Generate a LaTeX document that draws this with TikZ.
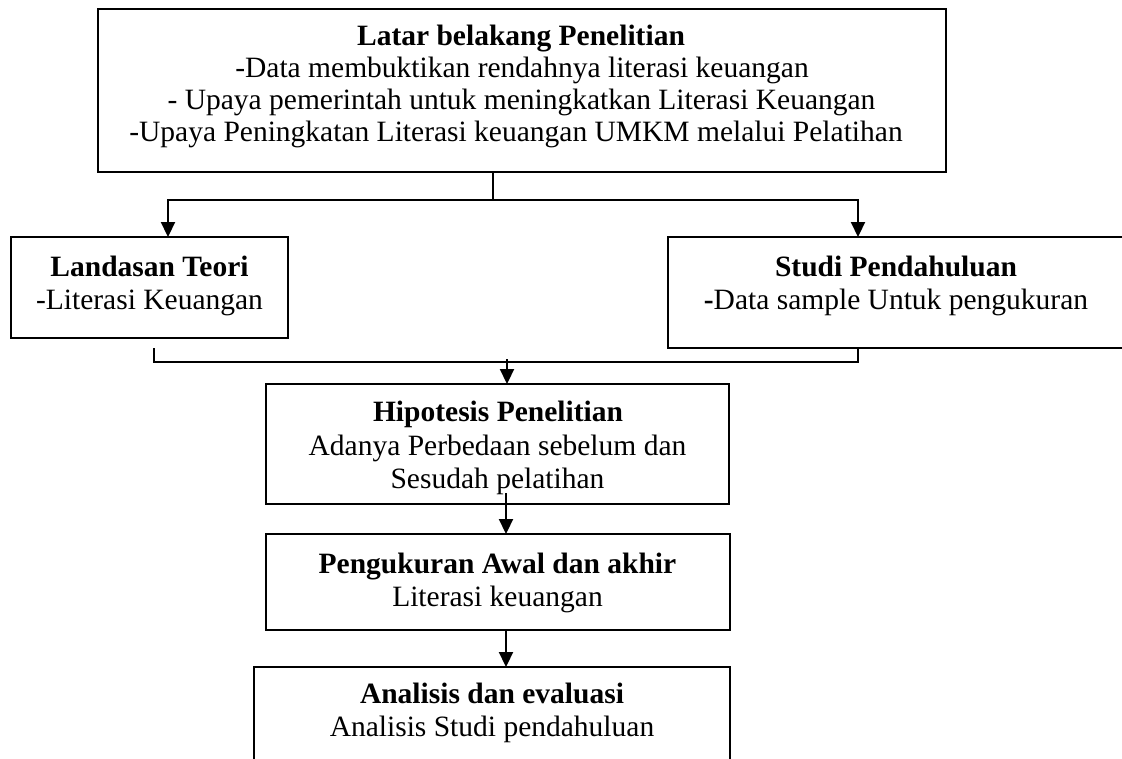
\documentclass[tikz,border=0pt]{standalone}
\usepackage{fontspec}
\setmainfont{Liberation Serif}
\usetikzlibrary{arrows.meta}
\begin{document}
\begin{tikzpicture}[x=1pt,y=-1pt,
  box/.style={draw,line width=2.2pt,inner sep=0pt,outer sep=0pt,rectangle},
  txt/.style={anchor=base,inner sep=0pt,font=\fontsize{29.5}{33}\selectfont},
  conn/.style={line width=2.2pt},
  arr/.style={line width=2.2pt,-{Triangle[length=15pt,width=14pt]}}]
\useasboundingbox (0,0) rectangle (1122,758);
\clip (0,0) rectangle (1122,758);
\fill[white] (0,0) rectangle (1122,758);
% boxes
\node[box,minimum width=848pt,minimum height=163pt] (top) at (522,90.5) {};
\node[box,minimum width=277pt,minimum height=101pt] (left) at (149.5,287.5) {};
\node[box,minimum width=456pt,minimum height=111pt] (right) at (896,292.5) {};
\node[box,minimum width=463pt,minimum height=120pt] (hip) at (497.5,444) {};
\node[box,minimum width=464pt,minimum height=96pt] (peng) at (498,582) {};
\node[box,minimum width=476pt,minimum height=110pt] (anal) at (492,722) {};
% texts
\node[txt] (t1) at (521,45) {\bfseries Latar belakang Penelitian};
\node[txt] (t2) at (522,77) {-Data membuktikan rendahnya literasi keuangan};
\node[txt] (t3) at (521.5,109) {- Upaya pemerintah untuk meningkatkan Literasi Keuangan};
\node[txt] (t4) at (516,141) {-Upaya Peningkatan Literasi keuangan UMKM melalui Pelatihan};
\node[txt] (l1) at (149.5,276) {\bfseries Landasan Teori};
\node[txt] (l2) at (149.5,309) {-Literasi Keuangan};
\node[txt] (r1) at (896,276) {\bfseries Studi Pendahuluan};
\node[txt] (r2) at (896,309) {{\bfseries -}Data sample Untuk pengukuran};
\node[txt] (h1) at (498,421) {\bfseries Hipotesis Penelitian};
\node[txt] (h2) at (497.5,455) {Adanya Perbedaan sebelum dan};
\node[txt] (h3) at (497.5,488) {Sesudah pelatihan};
\node[txt] (p1) at (497.5,573) {\bfseries Pengukuran Awal dan akhir};
\node[txt] (p2) at (497.5,606) {Literasi keuangan};
\node[txt] (a1) at (492,703) {\bfseries Analisis dan evaluasi};
\node[txt] (a2) at (492,736) {Analisis Studi pendahuluan};
% connectors
\coordinate (j0) at (493,200);
\coordinate (la) at (168,237);
\coordinate (ra) at (858,237);
\draw[conn] (top.south -| j0) -- (j0);
\draw[arr] (j0) -| (la);
\draw[arr] (j0) -| (ra);
\coordinate (lt) at (154,348);
\coordinate (lb) at (154,362);
\draw[conn] (lt) -- (lb) -- (lb -| ra) -- (right.south -| ra);
\coordinate (ha) at (507,359);
\draw[arr] (ha) -- (hip.north -| ha);
\coordinate (pa) at (506,493);
\draw[arr] (pa) -- (peng.north -| pa);
\draw[arr] (peng.south -| pa) -- (anal.north -| pa);
\end{tikzpicture}
\end{document}
